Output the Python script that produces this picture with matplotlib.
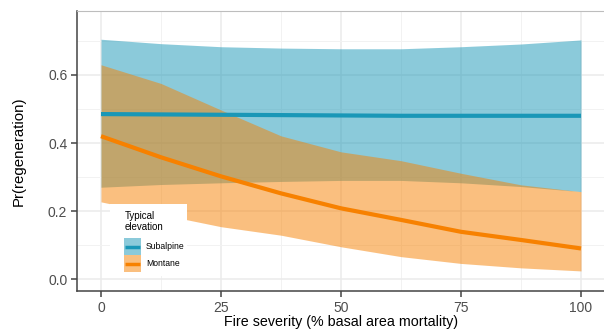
import matplotlib.pyplot as plt
from matplotlib.patches import Rectangle
from matplotlib.lines import Line2D
from matplotlib.ticker import MultipleLocator

# fire severity (% basal area mortality)
severity = [0, 12.5, 25, 37.5, 50, 62.5, 75, 87.5, 100]

# Subalpine fit and 95% band
sub_fit = [0.485, 0.484, 0.483, 0.482, 0.481, 0.480, 0.480, 0.480, 0.480]
sub_hi = [0.705, 0.692, 0.683, 0.679, 0.677, 0.677, 0.683, 0.691, 0.703]
sub_lo = [0.270, 0.278, 0.283, 0.287, 0.290, 0.290, 0.283, 0.272, 0.257]

# Montane fit and 95% band
mon_fit = [0.420, 0.358, 0.302, 0.252, 0.208, 0.174, 0.139, 0.115, 0.090]
mon_hi = [0.630, 0.575, 0.497, 0.421, 0.374, 0.348, 0.311, 0.277, 0.257]
mon_lo = [0.227, 0.190, 0.154, 0.129, 0.095, 0.066, 0.046, 0.033, 0.024]

groups = ["Subalpine", "Montane"]
colors = ["#1997B7", "#F78100"]

plt.rcParams['font.family'] = ['Liberation Sans', 'DejaVu Sans']

W, H = 604, 329
fig = plt.figure(figsize=(W / 100, H / 100), dpi=100)
ax = fig.add_axes([77 / W, 1 - 291 / H, 528 / W, 280 / H])

ax.fill_between(severity, sub_lo, sub_hi, color=colors[0], alpha=0.5, lw=0)
ax.fill_between(severity, mon_lo, mon_hi, color=colors[1], alpha=0.5, lw=0)
ax.plot(severity, sub_fit, color=colors[0], lw=3, solid_capstyle='butt')
ax.plot(severity, mon_fit, color=colors[1], lw=3, solid_capstyle='butt')

ax.set_xlim(-5, 105)
ax.set_ylim(-0.035, 0.788)
ax.xaxis.set_major_locator(MultipleLocator(25))
ax.xaxis.set_minor_locator(MultipleLocator(12.5))
ax.yaxis.set_minor_locator(MultipleLocator(0.1))
ax.set_yticks([0, 0.2, 0.4, 0.6])
ax.set_yticklabels(["0.0", "0.2", "0.4", "0.6"])
ax.grid(which='major', color='#EBEBEB', lw=1.1)
ax.grid(which='minor', color='#F2F2F2', lw=0.7)
ax.set_axisbelow(True)

ax.spines['top'].set_color('#BDBDBD')
ax.spines['top'].set_linewidth(0.8)
ax.spines['right'].set_visible(False)
for s in ['left', 'bottom']:
    ax.spines[s].set_color('#444444')
    ax.spines[s].set_linewidth(1.1)
ax.tick_params(which='major', length=4, width=1.1, color='#444444',
               labelcolor='#4D4D4D', labelsize=10, pad=3)
ax.tick_params(which='minor', length=0)

ax.set_xlabel("Fire severity (% basal area mortality)", fontsize=10.3, labelpad=0)
ax.set_ylabel("Pr(regeneration)", fontsize=10.8, labelpad=16)

# legend drawn by hand: white box, title, keys
fig.patches.append(Rectangle((110 / W, 1 - 276 / H), 77 / W, 72 / H,
                             transform=fig.transFigure, facecolor='white',
                             edgecolor='none', zorder=5))
fig.text(125 / W, 1 - 211 / H, "Typical\nelevation", fontsize=7, va='top',
         ha='left', linespacing=1.15, zorder=6)
for i, (name, c) in enumerate(zip(groups, colors)):
    top = 238 + i * 17
    fig.patches.append(Rectangle((124 / W, 1 - (top + 17) / H), 17 / W, 17 / H,
                                 transform=fig.transFigure, facecolor=c,
                                 alpha=0.5, edgecolor='none', zorder=6))
    fig.lines.append(Line2D([125 / W, 140 / W], [1 - (top + 8.5) / H] * 2,
                            transform=fig.transFigure, color=c, lw=2.5,
                            solid_capstyle='butt', zorder=7))
    fig.text(146 / W, 1 - (top + 8.5) / H, name, fontsize=6.2, va='center',
             ha='left', zorder=7)

fig.savefig("out.png", dpi=100)
